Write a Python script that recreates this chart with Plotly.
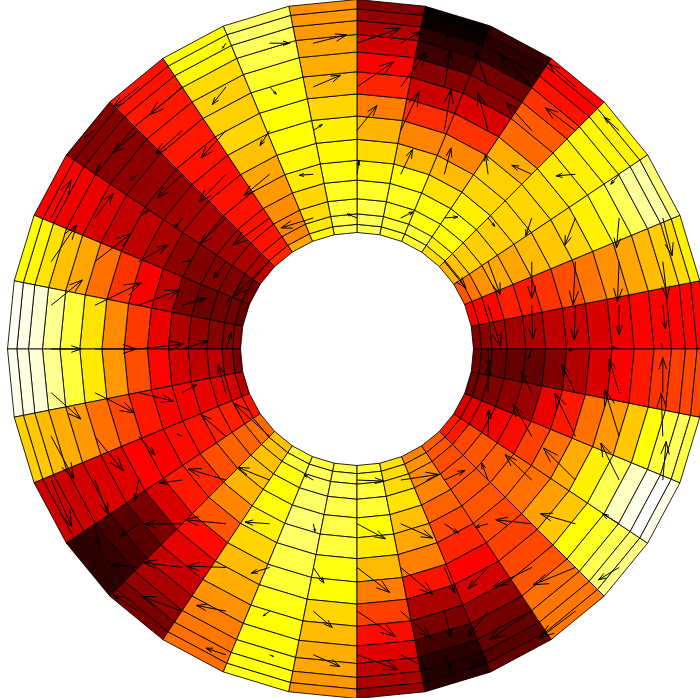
import math
import plotly.graph_objects as go

# Ring edges of the annulus (data units) and number of angular sectors
ring_edges = [1.0, 1.07, 1.16, 1.29, 1.45, 1.62, 1.80, 2.0, 2.19, 2.38, 2.55, 2.70, 2.82, 2.92, 3.0]
sector_count = 32

# Cell values on the "hot" scale, each sector listed from the inner ring outwards.
sector_00 = [.19,.21,.24,.24,.25,.28,.30,.32,.35,.375,.375,.375,.38,.38]
sector_01 = [.375,.375,.38,.42,.41,.45,.49,.55,.59,.62,.65,.68,.70,.73]
sector_02 = [.50,.55,.59,.62,.62,.65,.67,.69,.73,.78,.84,.90,.91,.87]
sector_03 = [.64,.66,.68,.68,.68,.69,.69,.70,.72,.73,.74,.74,.73,.74]
sector_04 = [.70,.73,.75,.75,.73,.69,.68,.63,.53,.51,.45,.40,.375,.38]
sector_05 = [.80,.80,.76,.75,.71,.65,.57,.45,.32,.20,.17,.07,.065,.08]
sector_06 = [.80,.80,.78,.78,.75,.65,.57,.44,.30,.20,.09,.06,.02,.01]
sector_07 = [.83,.83,.82,.79,.74,.70,.64,.56,.43,.375,.31,.26,.22,.19]
sector_08 = [.83,.82,.80,.78,.76,.74,.73,.69,.65,.63,.62,.60,.60,.59]
sector_09 = [.74,.72,.70,.69,.72,.74,.75,.75,.76,.79,.82,.84,.85,.85]
sector_10 = [.62,.57,.57,.58,.60,.62,.66,.69,.68,.68,.70,.74,.75,.75]
sector_11 = [.43,.41,.40,.40,.40,.40,.39,.40,.41,.41,.41,.41,.40,.40]
sector_12 = [.28,.25,.25,.24,.23,.25,.24,.22,.22,.21,.20,.20,.19,.19]
sector_13 = [.16,.17,.19,.19,.19,.21,.25,.28,.29,.32,.35,.36,.37,.375]
sector_14 = [.15,.17,.17,.16,.18,.28,.37,.45,.54,.62,.66,.71,.74,.75]
sector_15 = [.19,.19,.20,.22,.26,.35,.46,.58,.71,.81,.89,.96,.98,.99]
sector_16 = [.18,.23,.28,.28,.31,.38,.49,.60,.72,.81,.89,.96,.97,.98]
sector_17 = [.27,.32,.33,.35,.36,.375,.41,.48,.54,.60,.63,.65,.67,.68]
sector_18 = [.40,.41,.42,.42,.40,.39,.37,.375,.33,.32,.31,.30,.30,.30]
sector_19 = [.53,.54,.52,.52,.49,.43,.41,.32,.18,.13,.10,.08,.07,.07]
sector_20 = [.66,.66,.66,.66,.64,.57,.50,.39,.34,.29,.25,.22,.18,.18]
sector_21 = [.80,.80,.76,.75,.75,.73,.69,.65,.63,.59,.56,.55,.54,.54]
sector_22 = [.82,.84,.84,.85,.86,.85,.82,.80,.77,.75,.75,.75,.76,.77]
sector_23 = [.82,.83,.84,.82,.82,.81,.77,.75,.69,.65,.63,.62,.60,.59]
sector_24 = [.80,.79,.81,.80,.75,.72,.65,.56,.47,.39,.33,.28,.25,.22]
sector_25 = [.71,.70,.70,.71,.66,.62,.56,.40,.25,.18,.10,.06,.05,.06]
sector_26 = [.57,.59,.58,.57,.52,.48,.43,.375,.31,.22,.17,.15,.13,.15]
sector_27 = [.51,.50,.49,.50,.50,.50,.48,.47,.48,.50,.54,.55,.55,.55]
sector_28 = [.41,.41,.48,.50,.51,.53,.54,.61,.67,.75,.79,.83,.86,.88]
sector_29 = [.32,.33,.33,.36,.39,.47,.54,.63,.73,.83,.94,.98,1.0,.98]
sector_30 = [.16,.18,.19,.21,.23,.35,.41,.54,.60,.67,.75,.81,.84,.82]
sector_31 = [.16,.15,.15,.15,.15,.19,.26,.32,.375,.41,.45,.47,.48,.48]

sectors = [sector_00, sector_01, sector_02, sector_03, sector_04, sector_05, sector_06, sector_07,
           sector_08, sector_09, sector_10, sector_11, sector_12, sector_13, sector_14, sector_15,
           sector_16, sector_17, sector_18, sector_19, sector_20, sector_21, sector_22, sector_23,
           sector_24, sector_25, sector_26, sector_27, sector_28, sector_29, sector_30, sector_31]

# Quiver samples on a regular grid: (column, row, u, v); u, v in 1/349.5 data units
grid_step = 0.375
vector_scale = 1 / 349.5
arrows_q1 = [
    (0,7,130,45),(1,7,60,35),(2,7,10,25),(3,7,-15,30),
    (0,6,110,75),(1,6,78,105),(2,6,18,112),(3,6,-37,105),(4,6,-95,97),(5,6,-80,70),
    (0,5,60,75),(1,5,55,116),(2,5,20,123),(3,5,-30,113),(4,5,-77,85),(5,5,-90,68),(6,5,-45,40),
    (0,4,6,40),(1,4,36,75),(2,4,20,79),(3,4,-8,59),(4,4,-60,27),(5,4,-58,-5),(6,4,-25,-30),
    (0,3,-30,12),(1,3,38,18),(2,3,40,3),(3,3,20,-25),(4,3,-18,-53),(5,3,-32,-82),(6,3,-8,-90),(7,3,28,-113),
    (2,2,65,-80),(3,2,37,-100),(4,2,0,-110),(5,2,-7,-130),(6,2,-5,-120),(7,2,13,-110),
    (3,1,38,-125),(4,1,3,-100),(5,1,-4,-104),(6,1,0,-89),(7,1,7,-70),
    (3,0,2,-50),(4,0,-10,-30),(5,0,-20,-5),(6,0,-20,7),(7,0,-5,17),
]
arrows_q2 = [
    (-1,7,100,25),(-2,7,60,0),(-3,7,-10,-15),
    (-1,6,82,35),(-2,6,20,-22),(-3,6,-41,-53),(-4,6,-97,-83),(-5,6,-75,-60),
    (-1,5,27,18),(-2,5,-29,-45),(-3,5,-75,-82),(-4,5,-79,-70),(-5,5,-78,-67),(-6,5,-30,-20),
    (-1,4,-42,-3),(-2,4,-76,-63),(-3,4,-80,-83),(-4,4,-74,-70),(-5,4,-26,-18),(-6,4,15,30),
    (-1,3,-97,-30),(-2,3,-110,-81),(-3,3,-78,-78),(-4,3,-22,-30),(-5,3,29,24),(-6,3,55,74),(-7,3,60,114),
    (-2,2,-109,-105),(-3,2,-38,-52),(-4,2,28,2),(-5,2,89,50),(-6,2,110,85),(-7,2,76,110),
    (-3,1,10,20),(-4,1,70,21),(-5,1,124,46),(-6,1,140,68),(-7,1,94,76),
    (-3,0,17,50),(-4,0,78,25),(-5,0,135,15),(-6,0,125,0),(-7,0,90,0),
]
arrows_q3 = [
    (-7,-1,89,-79),(-7,-2,68,-127),(-7,-3,61,-139),
    (-6,-1,120,-61),(-6,-2,85,-103),(-6,-3,40,-104),(-6,-4,12,-68),(-6,-5,-10,-7),
    (-5,-1,104,-25),(-5,-2,49,-55),(-5,-3,-11,-62),(-5,-4,-54,-38),(-5,-5,-80,8),(-5,-6,-76,49),
    (-4,-1,43,24),(-4,-2,-15,7),(-4,-3,-69,-9),(-4,-4,-114,-1),(-4,-5,-117,15),(-4,-6,-122,44),
    (-3,-1,-23,85),(-3,-2,-75,65),(-3,-3,-113,33),(-3,-4,-123,12),(-3,-5,-118,4),(-3,-6,-88,17),(-3,-7,-60,20),
    (-2,-2,-109,100),(-2,-3,-95,38),(-2,-4,-74,5),(-2,-5,-55,-17),(-2,-6,-19,-14),(-2,-7,11,-5),
    (-1,-3,-28,16),(-1,-4,5,-23),(-1,-5,32,-47),(-1,-6,57,-49),(-1,-7,80,-35),
]
arrows_q4 = [
    (0,-3,80,-3),(0,-4,85,-45),(0,-5,98,-75),(0,-6,115,-76),(0,-7,125,-45),
    (1,-3,113,17),(1,-4,96,-43),(1,-5,98,-82),(1,-6,91,-81),(1,-7,88,-45),
    (2,-3,62,29),(2,-4,42,-28),(2,-5,32,-77),(2,-6,20,-81),(2,-7,20,-45),
    (3,-1,0,80),(3,-2,2,80),(3,-3,-19,51),(3,-4,-39,-10),(3,-5,-59,-64),(3,-6,-59,-76),(3,-7,-54,-45),
    (4,-1,-32,64),(4,-2,-55,95),(4,-3,-80,76),(4,-4,-108,12),(4,-5,-115,-57),(4,-6,-127,-86),
    (5,-1,-42,85),(5,-2,-62,130),(5,-3,-96,96),(5,-4,-105,30),(5,-5,-126,-52),(5,-6,-108,-81),
    (6,-1,-30,100),(6,-2,-43,140),(6,-3,-55,111),(6,-4,-50,30),(6,-5,-62,-37),
    (7,-1,0,105),(7,-2,-5,130),(7,-3,10,116),
]


def hot(t):
    """MATLAB-style hot colour map."""
    t = min(max(t, 0.0), 1.0)
    r = min(t / 0.375, 1.0)
    g = min(max((t - 0.375) / 0.375, 0.0), 1.0)
    b = min(max((t - 0.75) / 0.25, 0.0), 1.0)
    return f"rgb({int(r*255)},{int(g*255)},{int(b*255)})"


fig = go.Figure()
step = 2 * math.pi / sector_count
for s, values in enumerate(sectors):
    a0, a1 = s * step, (s + 1) * step
    for k, value in enumerate(values):
        r0, r1 = ring_edges[k], ring_edges[k + 1]
        xs = [r0 * math.cos(a0), r1 * math.cos(a0), r1 * math.cos(a1), r0 * math.cos(a1), r0 * math.cos(a0)]
        ys = [r0 * math.sin(a0), r1 * math.sin(a0), r1 * math.sin(a1), r0 * math.sin(a1), r0 * math.sin(a0)]
        fig.add_trace(go.Scatter(x=xs, y=ys, mode="lines", fill="toself", fillcolor=hot(value),
                                 line=dict(color="rgba(0,0,0,0.85)", width=1), hoverinfo="skip", showlegend=False))

ax, ay = [], []
for i, j, u, v in arrows_q1 + arrows_q2 + arrows_q3 + arrows_q4:
    x0, y0 = i * grid_step, j * grid_step
    du, dv = u * vector_scale, v * vector_scale
    x1, y1 = x0 + du, y0 + dv
    ax += [x0, x1, None]
    ay += [y0, y1, None]
    alpha, beta = 0.33, 0.33
    ax += [x1 - alpha * (du + beta * dv), x1, x1 - alpha * (du - beta * dv), None]
    ay += [y1 - alpha * (dv - beta * du), y1, y1 - alpha * (dv + beta * du), None]
fig.add_trace(go.Scatter(x=ax, y=ay, mode="lines", line=dict(color="black", width=1),
                         hoverinfo="skip", showlegend=False))

px_per_unit = 116.5
fig.update_layout(
    width=700, height=698, margin=dict(l=0, r=0, t=0, b=0),
    paper_bgcolor="white", plot_bgcolor="white", showlegend=False,
    xaxis=dict(visible=False, range=[-357 / px_per_unit, 343 / px_per_unit], fixedrange=True),
    yaxis=dict(visible=False, range=[-349 / px_per_unit, 349 / px_per_unit], fixedrange=True),
)
fig.write_html("out.html", post_script="document.body.style.margin='0';document.body.style.overflow='hidden';",
               config={"displayModeBar": False})
